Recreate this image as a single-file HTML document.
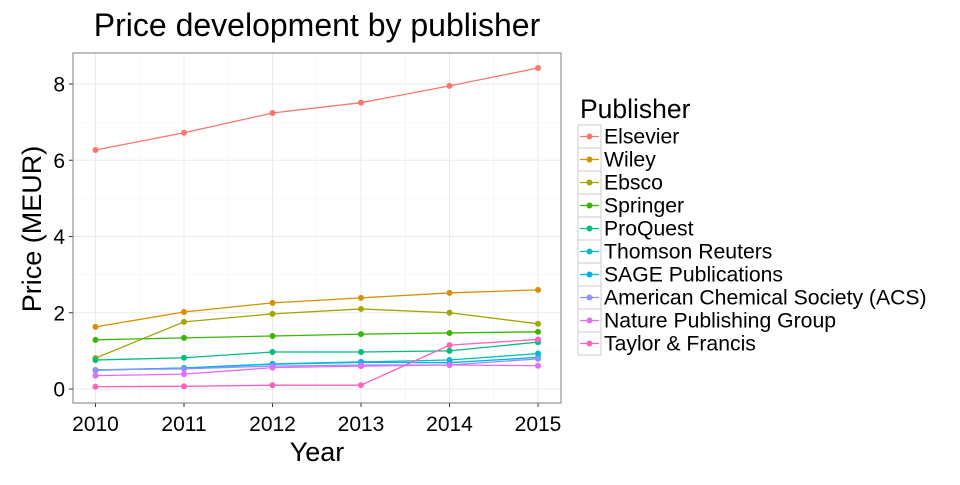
<!DOCTYPE html>
<html><head><meta charset="utf-8"><style>
body{margin:0;background:#fff;}
svg text{font-family:"Liberation Sans",Arial,sans-serif;}
</style></head><body>
<svg id="chart" width="960" height="480" xmlns="http://www.w3.org/2000/svg">
<rect width="960" height="480" fill="#fff"/>
<text x="317" y="36" font-size="32" text-anchor="middle">Price development by publisher</text>
<g id="panel"></g>
<text x="317" y="461" font-size="27" text-anchor="middle">Year</text>
<text transform="translate(41,229) rotate(-90)" font-size="27" text-anchor="middle">Price (MEUR)</text>
<g id="legend">
<text x="580" y="118" font-size="26.5">Publisher</text>
</g>
</svg>
<script>
const years = [2010, 2011, 2012, 2013, 2014, 2015];
const publishers = ["Elsevier","Wiley","Ebsco","Springer","ProQuest","Thomson Reuters","SAGE Publications","American Chemical Society (ACS)","Nature Publishing Group","Taylor & Francis"];
const colors = ["#F8766D","#D89000","#A3A500","#39B600","#00BF7D","#00BFC4","#00B0F6","#9590FF","#E76BF3","#FF62BC"];
const elsevier = [6.27, 6.72, 7.24, 7.51, 7.95, 8.42];
const wiley = [1.63, 2.02, 2.26, 2.39, 2.52, 2.6];
const ebsco = [0.81, 1.76, 1.97, 2.1, 2.0, 1.71];
const springer = [1.29, 1.34, 1.39, 1.44, 1.47, 1.5];
const proquest = [0.76, 0.82, 0.97, 0.97, 1.0, 1.23];
const thomson = [0.5, 0.55, 0.66, 0.71, 0.76, 0.93];
const sage = [0.49, 0.55, 0.65, 0.7, 0.69, 0.83];
const acs = [0.5, 0.53, 0.6, 0.63, 0.63, 0.79];
const nature = [0.35, 0.39, 0.56, 0.6, 0.63, 0.61];
const taylor = [0.06, 0.07, 0.1, 0.1, 1.15, 1.3];
const series = [elsevier, wiley, ebsco, springer, proquest, thomson, sage, acs, nature, taylor];
const yTicks = [0, 2, 4, 6, 8];

const NS = "http://www.w3.org/2000/svg";
const L = 73, R = 561, T = 53, B = 403;
const x = v => 95.5 + (v - 2010) * (538 - 95.5) / 5;
const y = v => 389 - v * (389 - 84) / 8;
function mk(tag, attrs, parent){const e=document.createElementNS(NS,tag);for(const k in attrs)e.setAttribute(k,attrs[k]);parent.appendChild(e);return e;}
const panel = document.getElementById('panel');
const bg = mk('rect',{x:L,y:T,width:R-L,height:B-T,fill:'#fff'},panel);


for (let i=0;i<yTicks.length-1;i++){ const v=(yTicks[i]+yTicks[i+1])/2; mk('line',{x1:L,x2:R,y1:y(v),y2:y(v),stroke:'#f2f2f2','stroke-width':0.6},panel); }
for (let i=0;i<years.length-1;i++){ const v=(years[i]+years[i+1])/2; mk('line',{x1:x(v),x2:x(v),y1:T,y2:B,stroke:'#f2f2f2','stroke-width':0.6},panel); }
yTicks.forEach(v=>{
  const g=mk('line',{x1:L,x2:R,y1:y(v),y2:y(v),stroke:'#ebebeb','stroke-width':1},panel);
  
  
  mk('line',{x1:L-4,x2:L,y1:y(v),y2:y(v),stroke:'#333','stroke-width':1},panel);
  const t=mk('text',{x:L-8,y:y(v)+7.5,'font-size':21,'text-anchor':'end'},panel);
  t.textContent=v;
  
  
});
years.forEach(v=>{
  const g=mk('line',{x1:x(v),x2:x(v),y1:T,y2:B,stroke:'#ebebeb','stroke-width':1},panel);
  
  
  mk('line',{x1:x(v),x2:x(v),y1:B,y2:B+4,stroke:'#333','stroke-width':1},panel);
  const t=mk('text',{x:x(v),y:B+28,'font-size':21,'text-anchor':'middle'},panel);
  t.textContent=v;
  
  
});
series.forEach((s,i)=>{
  const pl=mk('polyline',{points:s.map((v,j)=>x(years[j])+','+y(v)).join(' '),fill:'none',stroke:colors[i],'stroke-width':1.3},panel);
  
  
  s.forEach((v,j)=>{
    const c=mk('circle',{cx:x(years[j]),cy:y(v),r:3,fill:colors[i]},panel);
    
    
  });
});
const border=mk('rect',{x:L,y:T,width:R-L,height:B-T,fill:'none',stroke:'#7f7f7f','stroke-width':1},panel);


const leg=document.getElementById('legend');
publishers.forEach((p,i)=>{
  const yy=125+i*23;
  const g=mk('g',{},leg);
  
  
  mk('rect',{x:578,y:yy,width:23,height:23,fill:'#fff',stroke:'#ccc','stroke-width':1},g);
  mk('line',{x1:580,x2:599,y1:yy+11.5,y2:yy+11.5,stroke:colors[i],'stroke-width':1.3},g);
  mk('circle',{cx:589.5,cy:yy+11.5,r:3,fill:colors[i]},g);
  const t=mk('text',{x:604,y:yy+18.5,'font-size':21.2},g);
  t.textContent=p;
});
</script>
</body></html>
